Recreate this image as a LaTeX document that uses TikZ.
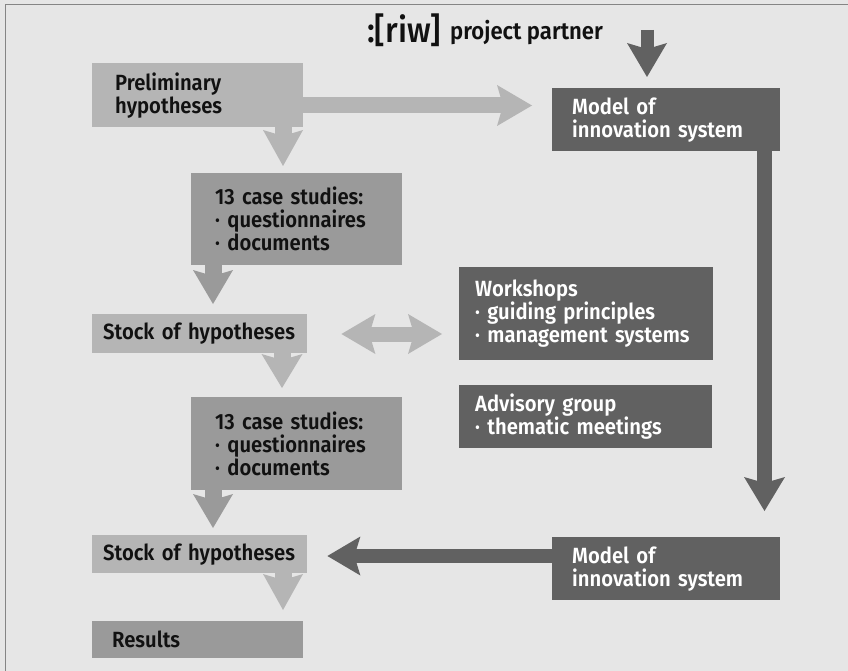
\documentclass[tikz,border=0pt]{standalone}
\usepackage{fontspec}
\setmainfont{Fira Sans}[FakeStretch=0.92, BoldFont={Fira Sans SemiBold}]
\newfontfamily\riwfont{Fira Sans Medium}[FakeStretch=0.92]
\usetikzlibrary{arrows.meta}

\definecolor{bgpaper}{HTML}{E6E6E6}
\definecolor{frameline}{HTML}{858585}
\definecolor{boxlight}{HTML}{B5B5B5}
\definecolor{boxmid}{HTML}{9A9A9A}
\definecolor{boxdark}{HTML}{616161}
\definecolor{inktext}{HTML}{111111}

% label font of the boxes, without word breaking
\newcommand\boxlabelfont{\bfseries\fontsize{22}{23}\selectfont
  \hyphenpenalty=10000 \exhyphenpenalty=10000\relax}

\tikzset{
  x=1pt, y=-1pt,
  box/.style={anchor=north west, inner ysep=0pt, align=left, font=\boxlabelfont},
  lightbox/.style={box, fill=boxlight, text=inktext},
  midbox/.style={box, fill=boxmid, text=inktext},
  darkbox/.style={box, fill=boxdark, text=white},
  fat/.style n args={4}{line width=#1,
    -{Stealth[length=#2,width=#3,inset=6pt,line width=0pt]}, draw=#4},
  fatboth/.style n args={4}{line width=#1,
    {Stealth[length=#2,width=#3,inset=6pt,line width=0pt]}-{Stealth[length=#2,width=#3,inset=6pt,line width=0pt]}, draw=#4},
}

\begin{document}
\begin{tikzpicture}
  % paper and its frame
  \fill[bgpaper] (0,0) rectangle (848,671);
  \useasboundingbox (0,0) rectangle (848,671);
  \draw[frameline, line width=1.6pt] (5.5,671) -- (5.5,4.5) -- (848,4.5);

  % heading
  \node[anchor=base west, inner sep=0pt, text=inktext] (partner) at (367,43)
    {{\riwfont\fontsize{35}{35}\selectfont :[riw]}\hspace{9pt}%
     \raisebox{3.5pt}{\bfseries\fontsize{24}{24}\selectfont project partner}};
  \coordinate (pp) at (647,30);

  % boxes
  \node[lightbox, minimum width=211pt, minimum height=64pt, inner xsep=23pt, text width=165pt]
    (prelim) at (92,63) {Preliminary\\hypotheses};
  \node[darkbox, minimum width=228pt, minimum height=63pt, inner xsep=20pt, text width=188pt]
    (model1) at (552,88) {Model of\\innovation system};
  \node[midbox, minimum width=211pt, minimum height=92pt, inner xsep=24pt, text width=163pt]
    (case1) at (191,173) {13 case studies:\\· questionnaires\\· documents};
  \node[lightbox, minimum width=215pt, minimum height=39pt, inner xsep=11pt, text width=193pt]
    (stock1) at (92,314) {Stock of hypotheses};
  \node[darkbox, minimum width=254pt, minimum height=93pt, inner xsep=16pt, text width=222pt]
    (workshops) at (459,267) {Workshops\\· guiding principles\\· management systems};
  \node[darkbox, minimum width=253pt, minimum height=63pt, inner xsep=16pt, text width=221pt]
    (advisory) at (459,385) {Advisory group\\· thematic meetings};
  \node[midbox, minimum width=211pt, minimum height=93pt, inner xsep=24pt, text width=163pt]
    (case2) at (191,397) {13 case studies:\\· questionnaires\\· documents};
  \node[lightbox, minimum width=215pt, minimum height=38pt, inner xsep=11pt, text width=193pt]
    (stock2) at (92,535) {Stock of hypotheses};
  \node[darkbox, minimum width=228pt, minimum height=63pt, inner xsep=20pt, text width=188pt]
    (model2) at (552,537) {Model of\\innovation system};
  \node[midbox, minimum width=211pt, minimum height=37pt, inner xsep=20pt, text width=171pt]
    (results) at (92,621) {Results};

  % connectors
  \draw[fat={13pt}{34pt}{40pt}{boxdark}, shorten >=11pt] (pp) -- (model1.north -| pp);
  \draw[fat={16pt}{35pt}{41pt}{boxlight}, shorten >=20pt]
    (prelim.east |- 0,105.5) -- (model1.west |- 0,105.5);
  \draw[fat={17pt}{36pt}{40pt}{boxlight}, shorten >=7pt]
    (prelim.south -| 283,0) -- (case1.north -| 283,0);
  \draw[fat={17pt}{34pt}{40pt}{boxmid}, shorten >=10pt]
    (case1.south -| 213,0) -- (stock1.north -| 213,0);
  \draw[fat={17pt}{34pt}{41pt}{boxlight}, shorten >=9pt]
    (stock1.south -| 282,0) -- (case2.north -| 282,0);
  \draw[fatboth={15pt}{34pt}{40pt}{boxlight}, shorten <=34pt, shorten >=17pt]
    (stock1.east |- 0,334) -- (workshops.west |- 0,334);
  \draw[fat={17pt}{34pt}{40pt}{boxmid}, shorten >=7pt]
    (case2.south -| 213,0) -- (stock2.north -| 213,0);
  \draw[fat={15pt}{34pt}{41pt}{boxdark}, shorten >=26pt]
    (model1.south -| 764.5,0) -- (model2.north -| 764.5,0);
  \draw[fat={14pt}{33pt}{39pt}{boxdark}, shorten >=20pt]
    (model2.west |- 0,556) -- (stock2.east |- 0,556);
  \draw[fat={17pt}{36pt}{40pt}{boxlight}, shorten >=11pt]
    (stock2.south -| 283,0) -- (results.north -| 283,0);
\end{tikzpicture}
\end{document}
